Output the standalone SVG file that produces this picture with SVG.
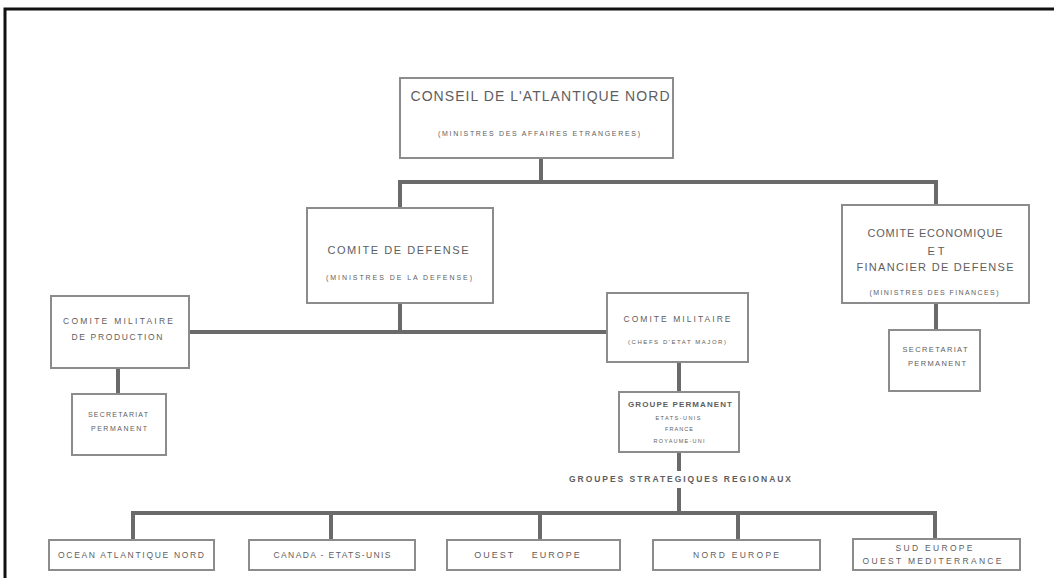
<svg xmlns="http://www.w3.org/2000/svg" width="1054" height="578" viewBox="0 0 1054 578">
<style>
.box{fill:#ffffff;stroke:#8c8c8c;stroke-width:2}
.t{font-family:"Liberation Sans",Arial,sans-serif;fill:#5e5e5e;text-anchor:middle;dominant-baseline:central}
.c{fill:none;stroke:#6a6a6a;stroke-width:4}
</style>
<rect width="1054" height="578" fill="#ffffff"/>
<path d="M5,578 V9 H1054" fill="none" stroke="#111" stroke-width="3"/>
<g id="connectors">
<path class="c" d="M541,158 V182 M400,182 H936 M400,180 V208 M936,180 V205"/>
<path class="c" d="M400,303 V332 M189,332 H607"/>
<path class="c" d="M118,368 V394"/>
<path class="c" d="M936,303 V330"/>
<path class="c" d="M679,362 V392"/>
<path class="c" d="M679,452 V471 M679,488 V513"/>
<path class="c" d="M133,513 H935 M133,511 V540 M331,511 V540 M540,511 V540 M738,511 V540 M935,511 V540"/>
</g>
<g id="conseil">
<rect class="box" x="400" y="78" width="273" height="80"/>
<text class="t" x="540" y="96" font-size="14" textLength="259" lengthAdjust="spacing">CONSEIL DE L'ATLANTIQUE NORD</text>
<text class="t" x="539" y="133" font-size="7" textLength="202" lengthAdjust="spacing">(MINISTRES DES AFFAIRES ETRANGERES)</text>
</g>
<g id="comite-defense">
<rect class="box" x="307" y="208" width="186" height="95"/>
<text class="t" x="398" y="250" font-size="11" textLength="141" lengthAdjust="spacing">COMITE DE DEFENSE</text>
<text class="t" x="399" y="277" font-size="7" textLength="146" lengthAdjust="spacing">(MINISTRES DE LA DEFENSE)</text>
</g>
<g id="comite-economique">
<rect class="box" x="842" y="205" width="187" height="98"/>
<text class="t" x="935" y="233" font-size="11" textLength="135" lengthAdjust="spacing">COMITE ECONOMIQUE</text>
<text class="t" x="936" y="251" font-size="11" textLength="17" lengthAdjust="spacing">ET</text>
<text class="t" x="935" y="267" font-size="11" textLength="157" lengthAdjust="spacing">FINANCIER DE DEFENSE</text>
<text class="t" x="934" y="292" font-size="7" textLength="129" lengthAdjust="spacing">(MINISTRES DES FINANCES)</text>
</g>
<g id="secretariat-eco">
<rect class="box" x="889" y="330" width="91" height="61"/>
<text class="t" x="935" y="349" font-size="7.5" textLength="65" lengthAdjust="spacing">SECRETARIAT</text>
<text class="t" x="937" y="363" font-size="7.5" textLength="58" lengthAdjust="spacing">PERMANENT</text>
</g>
<g id="comite-militaire-production">
<rect class="box" x="51" y="296" width="138" height="72"/>
<text class="t" x="118" y="321" font-size="8.5" textLength="110" lengthAdjust="spacing">COMITE MILITAIRE</text>
<text class="t" x="117" y="337" font-size="8.5" textLength="91" lengthAdjust="spacing">DE PRODUCTION</text>
</g>
<g id="secretariat-prod">
<rect class="box" x="72" y="394" width="94" height="61"/>
<text class="t" x="118" y="414" font-size="7" textLength="60" lengthAdjust="spacing">SECRETARIAT</text>
<text class="t" x="119" y="428" font-size="7" textLength="56" lengthAdjust="spacing">PERMANENT</text>
</g>
<g id="comite-militaire">
<rect class="box" x="607" y="293" width="141" height="69"/>
<text class="t" x="677" y="319" font-size="8.5" textLength="107" lengthAdjust="spacing">COMITE MILITAIRE</text>
<text class="t" x="677" y="342" font-size="6" textLength="98" lengthAdjust="spacing">(CHEFS D'ETAT MAJOR)</text>
</g>
<g id="groupe-permanent">
<rect class="box" x="619" y="392" width="120" height="60"/>
<text class="t" x="680" y="404" font-size="8" font-weight="bold" textLength="104" lengthAdjust="spacing">GROUPE PERMANENT</text>
<text class="t" x="678" y="418" font-size="5.5" textLength="45" lengthAdjust="spacing">ETATS-UNIS</text>
<text class="t" x="679" y="429" font-size="5.5" textLength="28" lengthAdjust="spacing">FRANCE</text>
<text class="t" x="679" y="441" font-size="5.5" textLength="51" lengthAdjust="spacing">ROYAUME-UNI</text>
</g>
<g id="groupes-label">
<text class="t" x="680" y="479" font-size="8.5" font-weight="bold" textLength="222" lengthAdjust="spacing">GROUPES STRATEGIQUES REGIONAUX</text>
</g>
<g id="ocean-atlantique-nord">
<rect class="box" x="49" y="540" width="165" height="30"/>
<text class="t" x="131" y="555" font-size="8.5" textLength="146" lengthAdjust="spacing">OCEAN ATLANTIQUE NORD</text>
</g>
<g id="canada-etats-unis">
<rect class="box" x="249" y="540" width="166" height="30"/>
<text class="t" x="332" y="555" font-size="8.5" textLength="117" lengthAdjust="spacing">CANADA - ETATS-UNIS</text>
</g>
<g id="ouest-europe">
<rect class="box" x="447" y="540" width="173" height="30"/>
<text class="t" x="528" y="555" font-size="9" letter-spacing="2" word-spacing="12">OUEST EUROPE</text>
</g>
<g id="nord-europe">
<rect class="box" x="653" y="540" width="167" height="30"/>
<text class="t" x="736" y="555" font-size="8.5" textLength="86" lengthAdjust="spacing">NORD EUROPE</text>
</g>
<g id="sud-europe">
<rect class="box" x="853" y="539" width="167" height="31"/>
<text class="t" x="934" y="548" font-size="8.5" textLength="77" lengthAdjust="spacing">SUD EUROPE</text>
<text class="t" x="932" y="561" font-size="8.5" textLength="139" lengthAdjust="spacing">OUEST MEDITERRANCE</text>
</g>
</svg>
